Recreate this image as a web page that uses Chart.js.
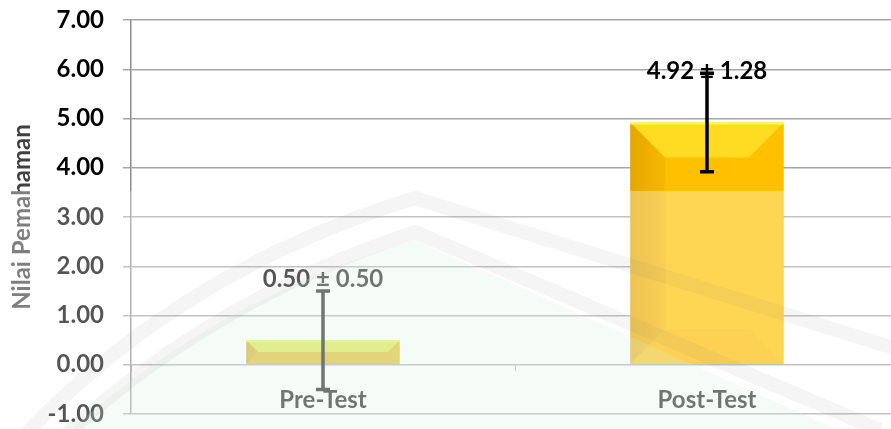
<!DOCTYPE html>
<html>
<head>
<meta charset="utf-8">
<script src="https://cdn.jsdelivr.net/npm/chart.js@4"></script>
<style>
  html, body { margin: 0; padding: 0; background: #fff; overflow: hidden; }
  #wrap { width: 900px; height: 429px; }
</style>
</head>
<body>
<div id="wrap"><canvas id="nilaiChart"></canvas></div>
<script>
// data
const categories = ['Pre-Test', 'Post-Test'];
const means = [0.50, 4.92];
const sds = [0.50, 1.28];
const errorBars = [1.00, 1.00];   // the drawn whiskers are +-1 on both bars
const barColors = ['#DCBA14', '#FFC000'];
const yMin = -1, yMax = 7, yStep = 1;

const FONT = 'Lato, "Open Sans", sans-serif';

// bevel look of the bars (drawn on the bar elements the library placed)
const bevelPlugin = {
    id: 'bevel',
    afterDatasetsDraw(chart) {
        const ctx = chart.ctx;
        chart.getDatasetMeta(0).data.forEach(function(bar, i) {
            const l = bar.x - bar.width / 2, r = bar.x + bar.width / 2;
            const t = Math.min(bar.y, bar.base), b = Math.max(bar.y, bar.base);
            const bv = Math.min(35, (b - t) / 2, bar.width / 2);
            ctx.save();
            // top face lighter
            ctx.fillStyle = i === 0 ? 'rgba(220,235,60,0.9)' : 'rgba(255,240,60,0.55)';
            ctx.beginPath();
            ctx.moveTo(l, t); ctx.lineTo(r, t); ctx.lineTo(r - bv, t + bv); ctx.lineTo(l + bv, t + bv);
            ctx.closePath(); ctx.fill();
            // left face darker
            const g = ctx.createLinearGradient(l, 0, l + bv, 0);
            g.addColorStop(0, 'rgba(150,90,0,0.25)');
            g.addColorStop(1, 'rgba(150,90,0,0.08)');
            ctx.fillStyle = g;
            ctx.beginPath();
            ctx.moveTo(l, t); ctx.lineTo(l + bv, t + bv); ctx.lineTo(l + bv, b - bv); ctx.lineTo(l, b);
            ctx.closePath(); ctx.fill();
            // bottom face
            ctx.fillStyle = 'rgba(200,120,0,0.06)';
            ctx.beginPath();
            ctx.moveTo(l, b); ctx.lineTo(l + bv, b - bv); ctx.lineTo(r - bv, b - bv); ctx.lineTo(r, b);
            ctx.closePath(); ctx.fill();
            // thin bright edge on top
            ctx.strokeStyle = i === 0 ? 'rgba(230,240,90,0.9)' : 'rgba(255,255,80,0.9)';
            ctx.lineWidth = 2;
            ctx.beginPath(); ctx.moveTo(l, t + 1); ctx.lineTo(r, t + 1); ctx.stroke();
            ctx.restore();
        });
    }
};

// error whiskers and the "mean ± sd" labels
const errorPlugin = {
    id: 'errorBars',
    afterDatasetsDraw(chart) {
        const ctx = chart.ctx;
        const yScale = chart.scales.y;
        const labelShift = [-12, -2];
        chart.getDatasetMeta(0).data.forEach(function(bar, i) {
            const yTop = yScale.getPixelForValue(means[i] + errorBars[i]);
            const yBot = yScale.getPixelForValue(means[i] - errorBars[i]);
            ctx.save();
            ctx.strokeStyle = '#000';
            ctx.lineWidth = 3.5;
            ctx.beginPath();
            ctx.moveTo(bar.x, yTop); ctx.lineTo(bar.x, yBot);
            ctx.moveTo(bar.x - 7, yTop); ctx.lineTo(bar.x + 7, yTop);
            ctx.moveTo(bar.x - 7, yBot); ctx.lineTo(bar.x + 7, yBot);
            ctx.stroke();
            ctx.fillStyle = '#000';
            ctx.font = 'bold 24px ' + FONT;
            ctx.textAlign = 'center';
            ctx.textBaseline = 'middle';
            ctx.fillText(means[i].toFixed(2) + ' \u00B1 ' + sds[i].toFixed(2), bar.x, yTop + labelShift[i]);
            ctx.restore();
        });
    }
};

// faded lower half with the faint watermark seen in the picture
const fadePlugin = {
    id: 'fade',
    afterDraw(chart) {
        const ctx = chart.ctx;
        const w = chart.width, h = chart.height;
        const cut = 191;
        ctx.save();
        ctx.beginPath(); ctx.rect(0, cut, w, h - cut); ctx.clip();
        ctx.fillStyle = 'rgba(255,255,255,0.33)';
        ctx.fillRect(0, cut, w, h - cut);
        // pale green inside the logo
        ctx.fillStyle = 'rgba(210,238,220,0.22)';
        ctx.beginPath();
        ctx.moveTo(60, 440); ctx.quadraticCurveTo(210, 300, 415, 240); ctx.lineTo(860, 440);
        ctx.closePath(); ctx.fill();
        // grey bands of the logo
        ctx.strokeStyle = 'rgba(120,120,120,0.07)';
        ctx.lineWidth = 14;
        ctx.lineJoin = 'round';
        ctx.beginPath();
        ctx.moveTo(20, 440); ctx.quadraticCurveTo(180, 270, 415, 198); ctx.lineTo(900, 350);
        ctx.stroke();
        ctx.beginPath();
        ctx.moveTo(60, 440); ctx.quadraticCurveTo(210, 300, 415, 232); ctx.lineTo(880, 430);
        ctx.stroke();
        ctx.restore();
    }
};

const ctx = document.getElementById('nilaiChart').getContext('2d');
const nilaiChart = new Chart(ctx, {
    type: 'bar',
    data: {
        labels: categories,
        datasets: [{
            data: means,
            backgroundColor: barColors,
            borderWidth: 0,
            barPercentage: 0.4,
            categoryPercentage: 1.0
        }]
    },
    options: {
        responsive: true,
        maintainAspectRatio: false,
        animation: false,
        layout: { padding: { top: 0, bottom: 0, right: 1, left: 0 } },
        plugins: {
            legend: { display: false },
            tooltip: { enabled: false }
        },
        scales: {
            x: {
                position: { y: 0 },
                afterFit: function(scale) { scale.height = 0; },
                grid: { drawOnChartArea: false, drawTicks: true, tickLength: 6, color: '#A6A6A6', offset: true },
                border: { display: false },
                ticks: { color: '#000', padding: 15, font: { family: FONT, size: 24, weight: 'bold' } }
            },
            y: {
                min: yMin,
                max: yMax,
                afterFit: function(scale) {
                    scale.width = 131;
                    scale.paddingTop = 20;
                    scale.paddingBottom = 15;
                },
                ticks: {
                    stepSize: yStep,
                    color: '#000',
                    padding: 19,
                    font: { family: FONT, size: 24, weight: 'bold' },
                    callback: function(v) { return Number(v).toFixed(2); }
                },
                grid: { color: '#A6A6A6', lineWidth: 1.5, tickLength: 8 },
                border: { color: '#8C8C8C', width: 1.5 },
                title: {
                    display: true,
                    text: 'Nilai Pemahaman',
                    color: '#404040',
                    padding: { top: 8, bottom: 0 },
                    font: { family: FONT, size: 24, weight: 'bold' }
                }
            }
        }
    },
    plugins: [bevelPlugin, errorPlugin, fadePlugin]
});
</script>
</body>
</html>
